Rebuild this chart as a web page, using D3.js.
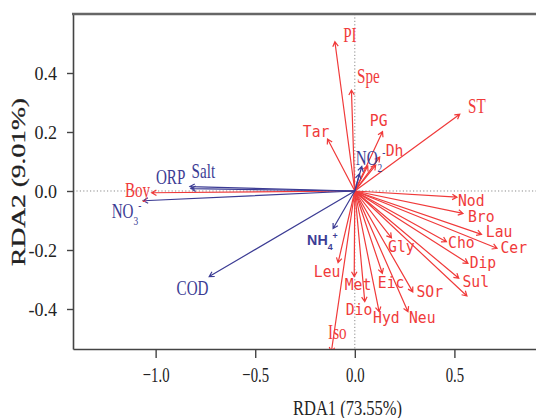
<!DOCTYPE html>
<html><head><meta charset="utf-8">
<script src="https://cdn.jsdelivr.net/npm/d3@7"></script>
<style>body{margin:0;background:#fff}</style></head>
<body><svg id="c" width="536" height="418"></svg>
<script>
// ---- data ----
const speciesNames = ["PI","Spe","ST","Tar","PG","Dh","","","Boy","Nod","Bro","Lau","Cer","Cho","Dip","Sul","","Gly","Leu","Met","Eic","SOr","Dio","Hyd","Neu","Iso"];
const speciesRDA1  = [-0.100,-0.017,0.527,-0.137,0.139,0.125,0.105,0.065,-1.020,0.513,0.543,0.636,0.714,0.460,0.568,0.522,0.563,0.184,-0.084,-0.003,0.138,0.291,0.050,0.122,0.267,-0.118];
const speciesRDA2  = [0.506,0.342,0.260,0.176,0.201,0.115,0.088,0.085,-0.006,-0.021,-0.076,-0.147,-0.194,-0.172,-0.245,-0.296,-0.356,-0.159,-0.243,-0.290,-0.279,-0.342,-0.375,-0.409,-0.409,-0.546];
const envNames = ["ORP","Salt","NO3","COD","NH4","NO2",""];
const envRDA1  = [-0.823,-0.828,-1.062,-0.731,-0.109,0.035,0.023];
const envRDA2  = [0.008,0.015,-0.033,-0.290,-0.127,0.083,0.058];
const xTicks = [-1.0,-0.5,0.0,0.5];
const xTickLabels = ["\u22121.0","\u22120.5","0.0","0.5"];
const yTicks = [-0.4,-0.2,0.0,0.2,0.4];
const yTickLabels = ["-0.4","-0.2","0.0","0.2","0.4"];
const xTitle = "RDA1 (73.55%)";
const yTitle = "RDA2 (9.01%)";

// ---- label layout (pixel offsets from arrow tip, font style) ----
const labelStyle = {
  PI:{f:"serif",dx:8.3,dy:0}, Spe:{f:"serif",dx:5.6,dy:-7.3}, ST:{f:"serif",dx:8.3,dy:-1},
  Boy:{f:"serif",dx:-26.7,dy:4}, Iso:{f:"serif",dx:-3.2,dy:-12.7},
  Tar:{f:"mono",dx:-24.7,dy:-2.3}, PG:{f:"mono",dx:-12.7,dy:-5.7}, Dh:{f:"mono",dx:6,dy:-1},
  Nod:{f:"mono",dx:1,dy:8.7}, Bro:{f:"mono",dx:5,dy:8.4}, Lau:{f:"mono",dx:4.3,dy:3},
  Cer:{f:"mono",dx:3.4,dy:5}, Cho:{f:"mono",dx:1.6,dy:6.6}, Dip:{f:"mono",dx:1.7,dy:4.7},
  Sul:{f:"mono",dx:3.7,dy:8.4}, Gly:{f:"mono",dx:-3.4,dy:13.7}, Leu:{f:"mono",dx:-24.3,dy:14},
  Met:{f:"mono",dx:-9.5,dy:13.5}, Eic:{f:"mono",dx:-4.5,dy:15}, SOr:{f:"mono",dx:3.7,dy:4.7},
  Dio:{f:"mono",dx:-19,dy:13.3}, Hyd:{f:"mono",dx:-6,dy:11.6}, Neu:{f:"mono",dx:1,dy:11.6},
  ORP:{f:"serif",dx:-35,dy:-4.5}, Salt:{f:"serif",dx:1.7,dy:-8.4},
  NO3:{f:"serif",dx:-31.6,dy:17.6,base:"NO",sub:"3",sup:"-"},
  COD:{f:"serif",dx:-32.6,dy:18.3},
  NH4:{f:"sansb",dx:-26,dy:16.5,base:"NH",sub:"4",sup:"+"},
  NO2:{f:"serif",dx:-6,dy:-1.5,base:"NO",sub:"2",sup:"-"}
};
const RED = "#f03a3a", BLUE = "#3c3c94";

const svg = d3.select("#c");
const W = 536, H = 418;
const x = d3.scaleLinear().domain([-1.4149, 0.9097]).range([73, 536]);
const y = d3.scaleLinear().domain([-0.5356, 0.6]).range([349, 14]);

// clip
svg.append("clipPath").attr("id","pc").append("rect")
  .attr("x",73).attr("y",14).attr("width",W-73).attr("height",349-14);

// dotted zero lines
svg.append("line").attr("x1",x.range()[0]).attr("x2",W).attr("y1",y(0)).attr("y2",y(0))
  .attr("stroke","#8a8a8a").attr("stroke-width",1).attr("stroke-dasharray","1.2,2.2");
svg.append("line").attr("x1",x(0)).attr("x2",x(0)).attr("y1",y.range()[1]).attr("y2",y.range()[0])
  .attr("stroke","#8a8a8a").attr("stroke-width",1).attr("stroke-dasharray","1.2,2.2");

// axes
const gy = svg.append("g").attr("transform",`translate(73,0)`)
  .call(d3.axisLeft(y).tickValues(yTicks).tickFormat((d,i)=>yTickLabels[i]).tickSize(6).tickSizeOuter(0));
gy.select(".domain").attr("stroke","#444").attr("stroke-width",1.6);
gy.selectAll(".tick line").attr("stroke","#444").attr("stroke-width",1.4);
gy.selectAll(".tick text").attr("x",-16).attr("dy",0).attr("y",7)
  .attr("font-family","'Liberation Serif', serif").attr("font-size",18).attr("fill","#222");

const gx = svg.append("g").attr("transform",`translate(0,349)`)
  .call(d3.axisBottom(x).tickValues(xTicks).tickFormat((d,i)=>xTickLabels[i]).tickSize(9).tickSizeOuter(0));
gx.select(".domain").attr("stroke","#444").attr("stroke-width",1.6);
gx.selectAll(".tick line").attr("stroke","#444").attr("stroke-width",1.4);
gx.selectAll(".tick text").attr("x",0).attr("dy",0).attr("y",0)
  .attr("transform","translate(0,33) scale(0.67,1)")
  .attr("font-family","'Liberation Serif', serif").attr("font-size",22).attr("fill","#222");

// top frame line
svg.append("line").attr("x1",72).attr("x2",W).attr("y1",14).attr("y2",14)
  .attr("stroke","#666").attr("stroke-width",2.4);

// titles
svg.append("text").attr("transform","translate(347.5,415) scale(0.75,1)")
  .attr("text-anchor","middle").attr("font-family","'Liberation Serif', serif")
  .attr("font-size",22).attr("fill","#222").text(xTitle);
svg.append("text").attr("transform","translate(25,182) rotate(-90) scale(1,0.66)")
  .attr("text-anchor","middle").attr("font-family","'Liberation Serif', serif")
  .attr("font-size",27.5).attr("fill","#222").attr("stroke","#222").attr("stroke-width",0.4).text(yTitle);

// arrows
function arrowPath(x1,y1){
  const x0 = x(0), y0 = y(0);
  const px = x(x1), py = y(y1);
  const a = Math.atan2(py-y0, px-x0), L = 5.5, t = Math.PI/6;
  const p = d3.path();
  p.moveTo(x0,y0); p.lineTo(px,py);
  p.moveTo(px - L*Math.cos(a-t), py - L*Math.sin(a-t)); p.lineTo(px,py);
  p.lineTo(px - L*Math.cos(a+t), py - L*Math.sin(a+t));
  return p.toString();
}
const ga = svg.append("g").attr("clip-path","url(#pc)").attr("fill","none");
const sp = speciesNames.map((n,i)=>({n, a:speciesRDA1[i], b:speciesRDA2[i]}));
const ev = envNames.map((n,i)=>({n, a:envRDA1[i], b:envRDA2[i]}));
ga.selectAll("path.sp").data(sp).join("path").attr("class","sp")
  .attr("d",d=>arrowPath(d.a,d.b)).attr("stroke",RED).attr("stroke-width",1.2);
ga.selectAll("path.ev").data(ev).join("path").attr("class","ev")
  .attr("d",d=>arrowPath(d.a,d.b)).attr("stroke",BLUE).attr("stroke-width",1.2);

// labels
const fonts = {
  serif:{fam:"'Liberation Serif', serif", size:21, sx:0.72, w:"normal"},
  mono:{fam:"'DejaVu Sans Mono', monospace", size:16, sx:0.92, w:"normal"},
  sansb:{fam:"'Liberation Sans', sans-serif", size:15, sx:0.95, w:"bold"}
};
function addLabel(d, color){
  if(!d.n) return;
  const s = labelStyle[d.n]; const f = fonts[s.f];
  const t = svg.append("text")
    .attr("transform",`translate(${x(d.a)+s.dx},${y(d.b)+s.dy}) scale(${f.sx},1)`)
    .attr("font-family",f.fam).attr("font-size",f.size).attr("font-weight",f.w).attr("fill",color);
  if(s.base){
    t.append("tspan").text(s.base);
    t.append("tspan").attr("font-size",f.size*0.62).attr("dy",f.size*0.33).text(s.sub);
    t.append("tspan").attr("font-size",f.size*0.62).attr("dy",-f.size*0.72).text(s.sup);
  } else t.text(d.n);
}
sp.forEach(d=>addLabel(d,RED));
ev.forEach(d=>addLabel(d,BLUE));
</script></body></html>
